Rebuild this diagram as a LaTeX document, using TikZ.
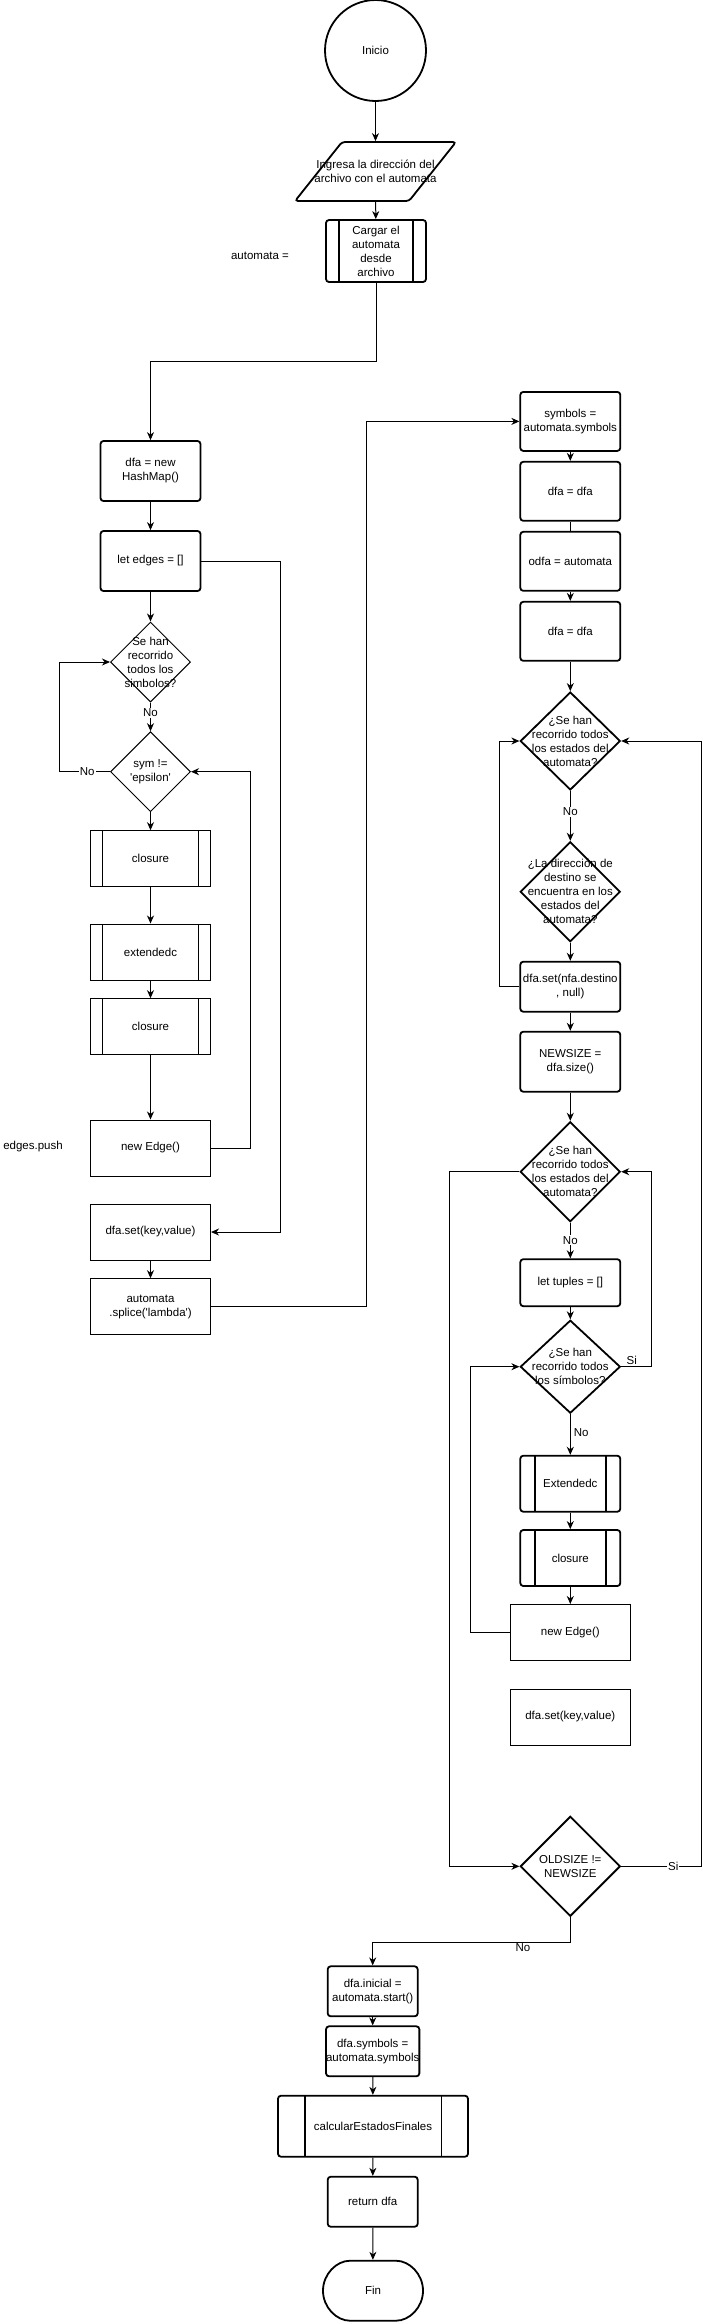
\documentclass[tikz,border=0pt]{standalone}
\usepackage{fontspec}
\setmainfont{Liberation Sans}
\usetikzlibrary{shapes.geometric,shapes.misc,arrows.meta}
\tikzset{>={Stealth[length=8pt,width=7pt,inset=2.5pt]}}
\tikzset{
  txt/.style={align=center, inner sep=0pt, font=\fontsize{11.5}{14}\selectfont},
  base/.style={txt, draw},
  blk/.style={base, line width=1.8pt, rounded corners=3pt},
  box/.style={base, line width=1pt},
  bars/.style={path picture={
      \draw ([xshift=#1]path picture bounding box.north west) -- ([xshift=#1]path picture bounding box.south west);
      \draw ([xshift=-#1]path picture bounding box.north east) -- ([xshift=-#1]path picture bounding box.south east);}},
  dec/.style={diamond, draw, inner sep=0pt, line width=#1},
  lbl/.style={txt, fill=white, inner sep=1pt},
  conn/.style={->, line width=1pt},
}
\begin{document}
\begin{tikzpicture}[x=1pt, y=-1pt]
\useasboundingbox (0,0) rectangle (709,2322);

% carga del automata
\node[blk, circle, minimum size=101pt] (ini) at (375.5,50.5) {Inicio};
\node[blk, trapezium, trapezium left angle=55, trapezium right angle=125, trapezium stretches=true,
  inner sep=2pt, minimum width=161pt, minimum height=59pt,
  label={[txt]center:{Ingresa la dirección del\\archivo con el automata}}] (inp) at (375.5,171.5) {};
\node[blk, bars=13pt, minimum width=100pt, minimum height=62pt] (load) at (376,251) {Cargar el\\automata\\desde\\archivo};
\node[txt] (asig) at (260,256) {automata =};

% columna izquierda
\node[blk, minimum width=100pt, minimum height=60pt] (hash) at (150.5,471) {dfa = new\\HashMap()};
\node[blk, minimum width=100pt, minimum height=60pt] (edges) at (150.5,561) {let edges = []};
\node[dec=1pt, minimum width=80pt, minimum height=80pt,
  label={[txt]center:{Se han\\recorrido\\todos los\\simbolos?}}] (d1) at (150.5,662) {};
\node[dec=1pt, minimum width=80pt, minimum height=80pt,
  label={[txt]center:{sym !=\\\textquotesingle epsilon\textquotesingle}}] (d2) at (150.5,771.7) {};
\node[box, bars=11.6pt, minimum width=120pt, minimum height=56pt] (cl1) at (150.5,858.7) {closure};
\node[box, bars=11.6pt, minimum width=120pt, minimum height=56pt] (ext1) at (150.5,952) {extendedc};
\node[box, bars=11.6pt, minimum width=120pt, minimum height=56pt] (cl2) at (150.5,1026.7) {closure};
\node[box, minimum width=120pt, minimum height=56pt] (nedge1) at (150.5,1148) {new Edge()};
\node[txt] (push) at (33,1147) {edges.push};
\node[box, minimum width=120pt, minimum height=56pt] (set1) at (150.5,1232) {dfa.set(key,value)};
\node[box, minimum width=120pt, minimum height=56pt] (splice) at (150.5,1306.7) {automata\\.splice(\textquotesingle lambda\textquotesingle)};

% columna derecha
\node[blk, minimum width=100pt, minimum height=59pt] (sym) at (570.3,421.4) {symbols =\\automata.symbols};
\node[blk, minimum width=100pt, minimum height=59pt] (dfa1) at (570.3,491.3) {dfa = dfa};
\node[blk, minimum width=100pt, minimum height=59pt] (odfa) at (570.3,561.3) {odfa = automata};
\node[blk, minimum width=100pt, minimum height=59pt] (dfa2) at (570.3,631.3) {dfa = dfa};
\node[dec=1.8pt, minimum width=100pt, minimum height=98pt,
  label={[txt]center:{¿Se han\\recorrido todos\\los estados del\\automata?}}] (d3) at (570.3,741) {};
\node[dec=1.8pt, minimum width=100pt, minimum height=100pt,
  label={[txt]center:{¿La dirección de\\destino se\\encuentra en los\\estados del\\automata?}}] (d4) at (570.3,891.7) {};
\node[blk, minimum width=100pt, minimum height=50pt] (nset) at (570.3,986.7) {dfa.set(nfa.destino\\, null)};
\node[blk, minimum width=100pt, minimum height=60pt] (nsize) at (570.3,1061.7) {NEWSIZE =\\dfa.size()};
\node[dec=1.8pt, minimum width=100pt, minimum height=100pt,
  label={[txt]center:{¿Se han\\recorrido todos\\los estados del\\automata?}}] (d5) at (570.3,1171.7) {};
\node[blk, minimum width=100pt, minimum height=47pt] (tup) at (570.3,1282.7) {let tuples = []};
\node[dec=1.8pt, minimum width=100pt, minimum height=93pt,
  label={[txt]center:{¿Se han\\recorrido todos\\los símbolos?}}] (d6) at (570.3,1366.7) {};
\node[blk, bars=14.3pt, minimum width=100pt, minimum height=56pt] (ext2) at (570.3,1483.7) {Extendedc};
\node[blk, bars=14.3pt, minimum width=100pt, minimum height=56pt] (cl3) at (570.3,1558) {closure};
\node[box, minimum width=120pt, minimum height=56pt] (nedge2) at (570.3,1632.5) {new Edge()};
\node[box, minimum width=120pt, minimum height=56pt] (set2) at (570.3,1717) {dfa.set(key,value)};
\node[dec=1.8pt, minimum width=100pt, minimum height=100pt,
  label={[txt]center:{OLDSIZE !=\\NEWSIZE}}] (d7) at (570.3,1866.3) {};

% final
\node[blk, minimum width=90pt, minimum height=50pt] (init) at (372.7,1991.3) {dfa.inicial =\\automata.start()};
\node[blk, minimum width=90pt, minimum height=50pt] (dsym) at (372.7,2051.3) {dfa.symbols =\\automata.symbols};
\node[blk, bars=26.6pt, minimum width=190pt, minimum height=61pt] (calc) at (373,2126.2) {calcularEstadosFinales};
\node[blk, minimum width=90pt, minimum height=50pt] (ret) at (372.7,2201.7) {return dfa};
\node[blk, rounded rectangle, minimum width=100pt, minimum height=60pt] (fin) at (373,2290.7) {Fin};

% conectores
\draw[conn] (ini) -- (inp);
\draw[conn] (inp) -- (load);
\draw[conn] (load) -- ++(0,110) -| (hash);
\draw[conn] (hash) -- (edges);
\draw[conn] (edges) -- (d1);
\draw[conn] (d1) -- node[lbl, pos=0.35]{No} (d2);
\draw[conn] (d2.west) -- node[lbl, pos=0.45]{No} ++(-50.5,0) |- (d1.west);
\draw[conn] (d2) -- (cl1);
\draw[conn] (cl1) -- (ext1);
\draw[conn] (ext1) -- (cl2);
\draw[conn] (cl2) -- (nedge1);
\draw[conn] (nedge1.east) -- ++(39.5,0) |- (d2.east);
\draw[conn] (edges.east) -- ++(79.5,0) |- (set1.east);
\draw[conn] (set1) -- (splice);
\draw[conn] (splice.east) -- ++(155,0) |- (sym.west);

\draw[conn] (sym) -- (dfa1);
\draw[line width=1pt] (dfa1) -- (odfa);
\draw[conn] (odfa) -- (dfa2);
\draw[conn] (dfa2) -- (d3);
\draw[conn] (d3) -- node[lbl, pos=0.42]{No} (d4);
\draw[conn] (d4) -- (nset);
\draw[conn] (nset.west) -- ++(-19.5,0) |- (d3.west);
\draw[conn] (nset) -- (nsize);
\draw[conn] (nsize) -- (d5);
\draw[conn] (d5.west) -- ++(-69.5,0) |- (d7.west);
\draw[conn] (d5) -- node[lbl, pos=0.5]{No} (tup);
\draw[conn] (tup) -- (d6);
\draw[conn] (d6.east) -- node[txt, above=2pt, pos=0.35]{Si} ++(30,0) |- (d5.east);
\draw[conn] (d6) -- node[txt, right=3pt, pos=0.45]{No} (ext2);
\draw[conn] (ext2) -- (cl3);
\draw[conn] (cl3) -- (nedge2);
\draw[conn] (nedge2.west) -- ++(-39.5,0) |- (d6.west);
\draw[conn] (d7.east) -- node[lbl, pos=0.65]{Si} ++(80,0) |- (d3.east);
\draw[conn] (d7.south) -- ++(0,25) -| node[txt, below=1pt, pos=0.12]{No} (init.north);

\draw[conn] (init) -- (dsym);
\draw[conn] (dsym) -- (calc);
\draw[conn] (calc) -- (ret);
\draw[conn] (ret) -- (fin);
\end{tikzpicture}
\end{document}
